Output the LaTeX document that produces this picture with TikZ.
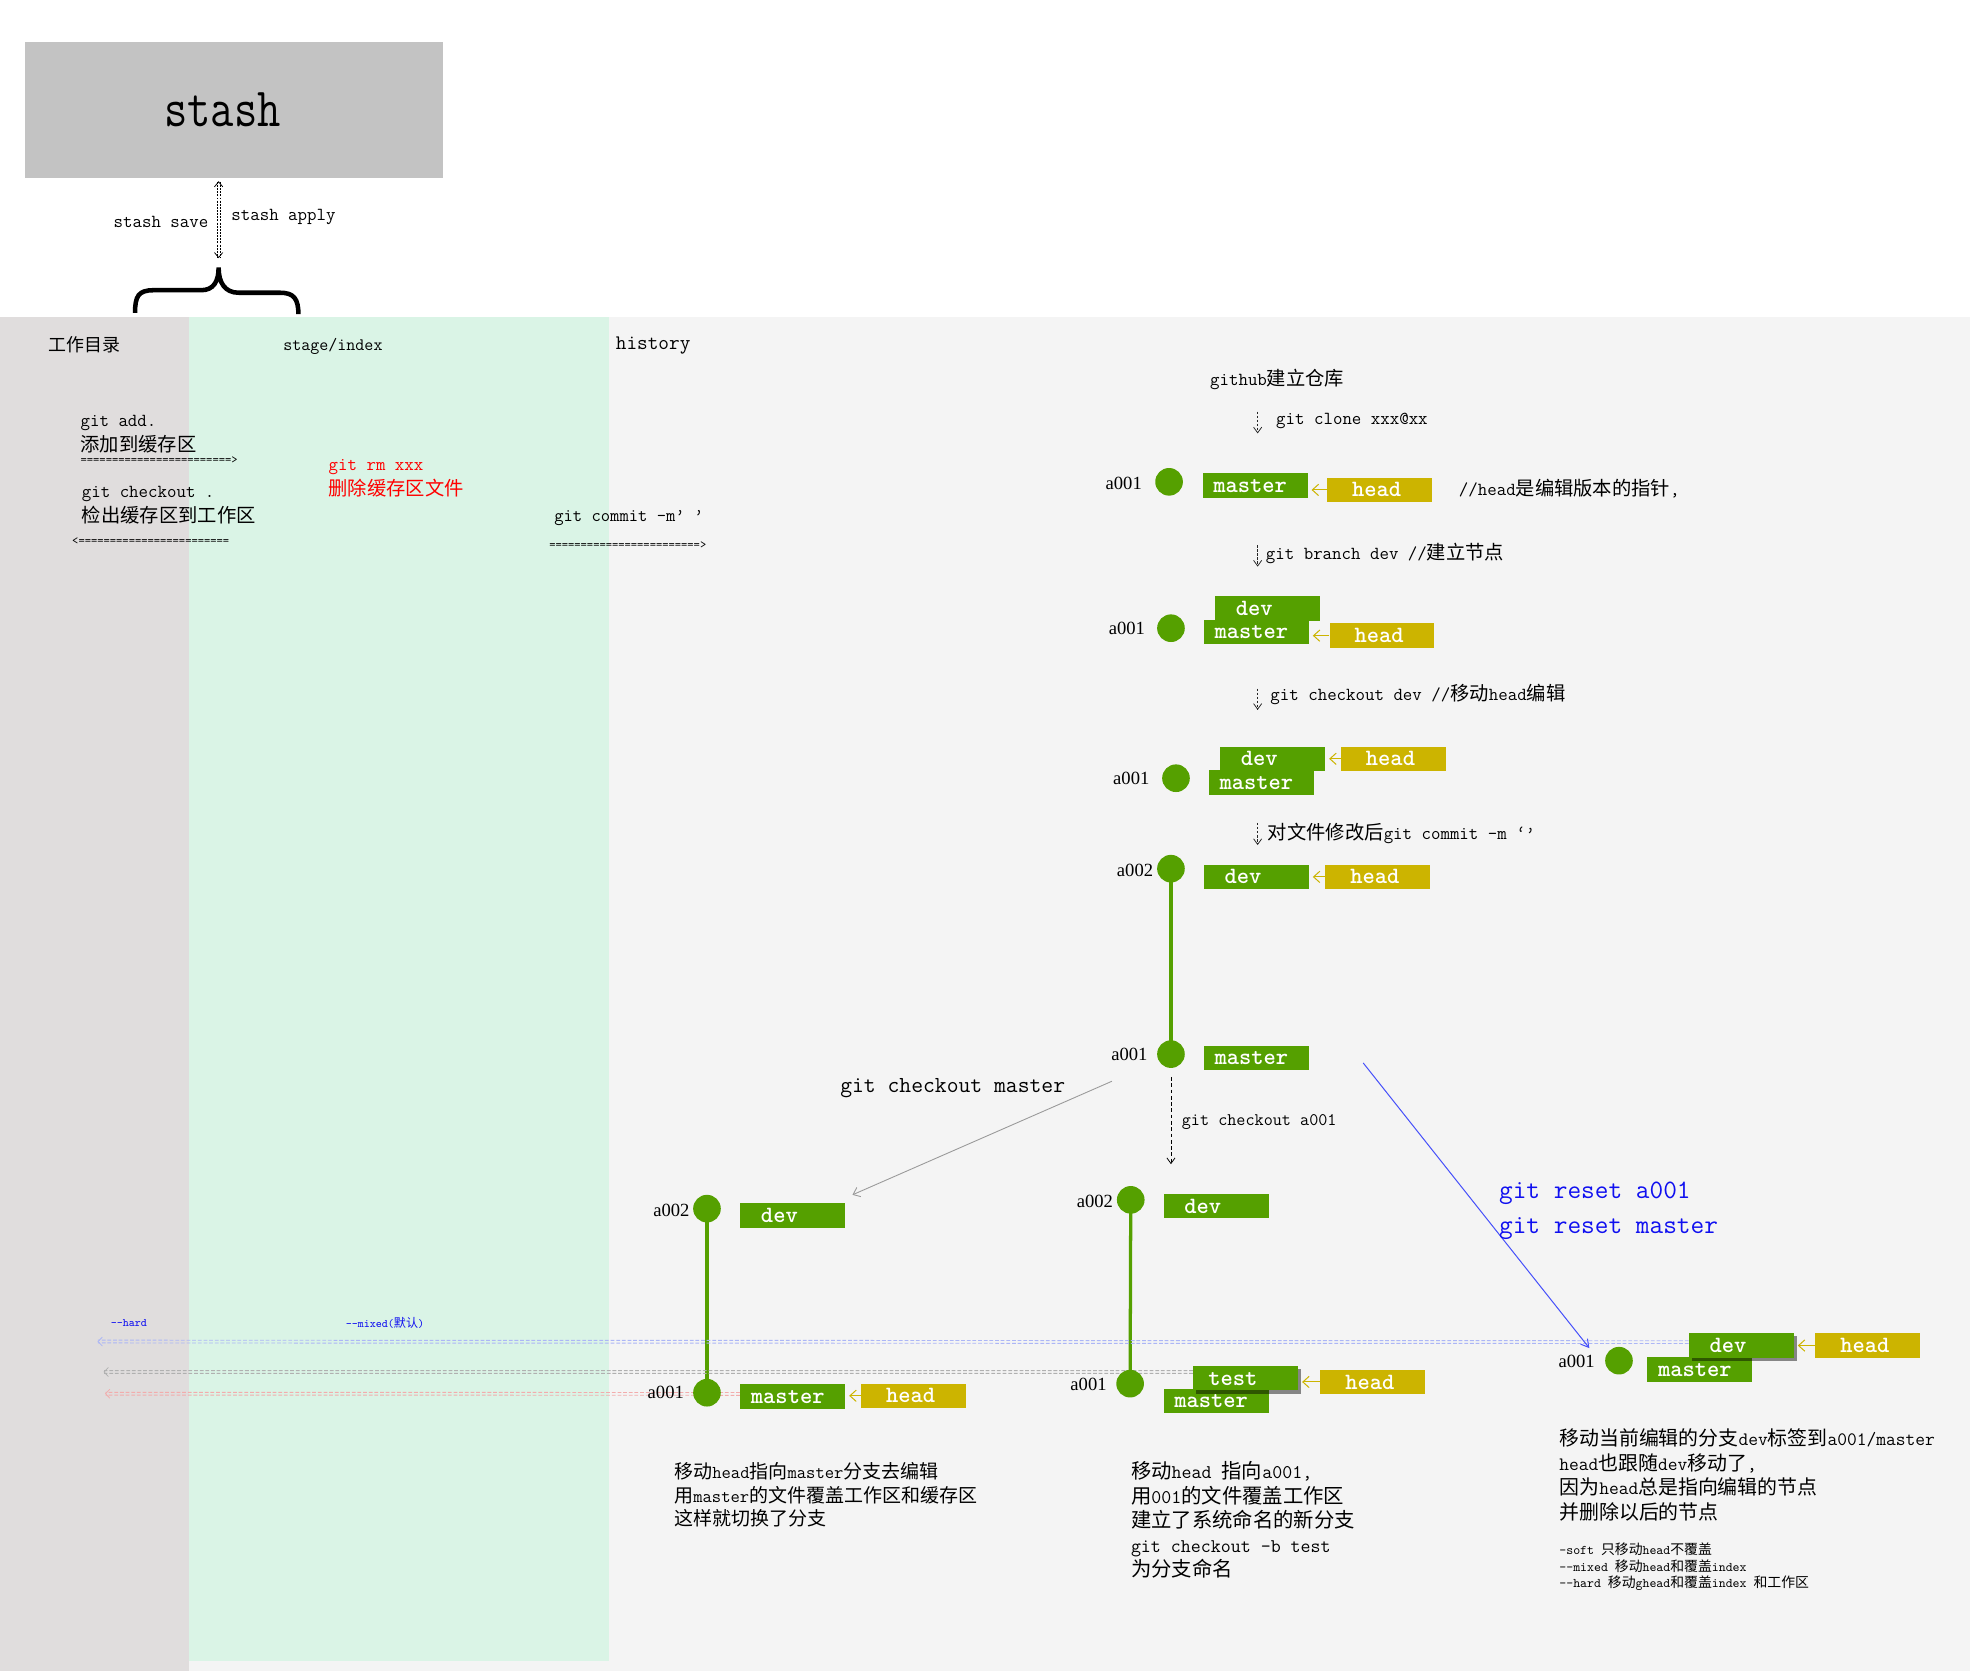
\documentclass[tikz,border=0pt]{standalone}
\usepackage{fontspec}
\usepackage{graphicx}
\usetikzlibrary{arrows.meta,calc,shadows}

% Latin text in the serif typewriter face, Chinese in Noto Sans CJK at full-width size
\newcommand\monof{\ttfamily}
\newfontfamily\cjkf[Scale=1.05]{Noto Sans CJK SC}
\newfontfamily\idfont{Liberation Serif}
\newcommand\zh[1]{{\cjkf #1}}
\newcommand\fs[2]{\fontsize{#1}{#2}\selectfont}

\definecolor{gitgreen}{RGB}{85,160,0}
\definecolor{headyellow}{RGB}{204,180,0}
\definecolor{stashgray}{RGB}{195,195,195}
\definecolor{workbg}{RGB}{224,221,221}
\definecolor{stagebg}{RGB}{218,244,230}
\definecolor{histbg}{RGB}{244,244,244}
\definecolor{hardline}{RGB}{172,182,246}
\definecolor{mixedline}{RGB}{176,176,176}
\definecolor{softline}{RGB}{242,172,172}
\definecolor{resetblue}{RGB}{15,15,240}
\definecolor{arrowblue}{RGB}{70,80,250}

\pgfdeclarelayer{backdrop}
\pgfdeclarelayer{lines}
\pgfsetlayers{backdrop,lines,main}

% two parallel dashed lines ending in an open tip (reset ranges)
\newcommand\twin[3]{%
  \draw[#1, line width=0.75pt, dash pattern=on 3pt off 1.5pt] ([yshift=1.1pt]#2) -- ([yshift=1.1pt]#3);
  \draw[#1, line width=0.75pt, dash pattern=on 3pt off 1.5pt] ([yshift=-1.1pt]#2) -- ([yshift=-1.1pt]#3);
  \draw[#1, line width=0.6pt] ([shift={(3.5pt,3.6pt)}]#3) -- (#3) -- ([shift={(3.5pt,-3.6pt)}]#3);
}

\begin{document}
\begin{tikzpicture}[x=1pt,y=-1pt,
  txt/.style={inner sep=0pt, anchor=west, align=left, font=\monof\fs{14.63}{19.8}},
  tiny/.style={txt, font=\monof\fs{9.52}{10}},
  commit/.style={circle, fill=gitgreen, minimum size=22pt, inner sep=0pt},
  cid/.style={inner sep=0pt, anchor=east, font=\idfont\fs{14.8}{15}},
  tag/.style={anchor=north west, fill=gitgreen, text=white, font=\monof\bfseries\fs{18.6}{18.6},
    minimum height=19.5pt, inner ysep=0pt, text height=11.2pt, text depth=0pt, align=left},
  mtag/.style={tag, inner xsep=8.5pt, text width=66.5pt},
  dtag/.style={tag, inner xsep=16.5pt, text width=50.5pt},
  ttag/.style={tag, inner xsep=12pt, text width=59.5pt},
  htag/.style={tag, fill=headyellow, inner xsep=20pt, text width=43.5pt},
  shadowed/.style={drop shadow={shadow xshift=2.5pt, shadow yshift=-2.5pt, opacity=0.45, fill=black}},
  headptr/.style={draw=headyellow, line width=0.8pt, -{Straight Barb[length=5pt, width=9pt]}},
  stepdown/.style={draw=black!85, line width=0.6pt, dash pattern=on 2pt off 1.2pt,
    -{Straight Barb[length=4.5pt, width=6.5pt]}},
  branchline/.style={draw=gitgreen, line width=2.6pt},
  stashbox/.style={anchor=north west, fill=stashgray, minimum height=107.8pt, inner ysep=0pt,
    inner xsep=110.5pt, text width=111.5pt, align=left, font=\monof\fs{44}{44},
    text height=26.5pt, text depth=0pt}
]
\useasboundingbox (0,0) rectangle (1568,1330);

% areas: working directory, stage/index, history
\begin{pgfonlayer}{backdrop}
  \fill[white] (0,0) rectangle (1568,1330);
  \fill[workbg] (0,252) rectangle (150.4,1330);
  \fill[histbg] (150.4,252) rectangle (1568,1330);
  \fill[stagebg] (150.4,252.5) rectangle (484.8,1322);
\end{pgfonlayer}

% stash and its link to the working areas
\node[stashbox] (stash) at (20,33.5) {\scalebox{0.82}[1]{stash}};
\coordinate (braceTip) at (174,213);
\coordinate (stashTop) at ($(stash.south -| braceTip)+(0,3)$);
\coordinate (stashBot) at ($(braceTip)+(0,-8)$);
\draw[line width=0.6pt, dash pattern=on 1.5pt off 1pt] ([xshift=-1.1pt]stashTop) -- ([xshift=-1.1pt]stashBot);
\draw[line width=0.6pt, dash pattern=on 1.5pt off 1pt] ([xshift=1.1pt]stashTop) -- ([xshift=1.1pt]stashBot);
\draw[line width=0.6pt] ([shift={(-3.3pt,-4pt)}]stashTop) -- (stashTop) -- ([shift={(3.3pt,-4pt)}]stashTop);
\draw[line width=0.6pt] ([shift={(-3.3pt,4pt)}]stashBot) -- (stashBot) -- ([shift={(3.3pt,4pt)}]stashBot);
\node[txt, anchor=east] (stashsave) at (166,176.8) {stash save};
\node[txt] (stashapply) at (184,172.8) {stash apply};
\draw[line width=3.6pt] (107.5,249) .. controls (107.5,236) and (110,231) .. (122,231)
  -- (160,231) .. controls (170,231) and (174,224) .. (braceTip)
  .. controls (174,225) and (179,233) .. (190,233) -- (223,233)
  .. controls (234,233) and (237.5,238) .. (237.5,250);

% area headings
\node[txt, font=\monof\fs{13.6}{14}] (wdir) at (38.3,274) {\zh{工作目录}};
\node[txt, font=\monof\fs{13.94}{14}] (stagehdr) at (225.3,276) {stage/index};
\node[txt, font=\monof\fs{16.46}{16}] (histhdr) at (490,275) {history};

% commands between the areas
\node[txt] (addtxt) at (64,345.8) {git add.\\\zh{添加到缓存区}};
\node[tiny] (addarr) at (64,366) {========================>};
\node[txt] (cotxt) at (65,402.3) {git checkout .\\\zh{检出缓存区到工作区}};
\node[tiny] (coarr) at (57.3,431) {<========================};
\node[txt, text=red] (rmtxt) at (261.4,381) {git rm xxx\\\zh{删除缓存区文件}};
\node[txt, font=\monof\fs{14.4}{14}] (cmtxt) at (441,412.5) {git commit -m’ ’};
\node[tiny] (cmarr) at (437,434.3) {========================>};

% history: clone, branch, checkout, commit
\node[txt] (repo) at (963,302) {github\zh{建立仓库}};
\coordinate (ar1s) at (1001,327.6); \coordinate (ar1e) at (1001,345);
\draw[stepdown] (ar1s) -- (ar1e);
\node[txt] (clonetxt) at (1015.6,335) {git clone xxx@xx};

\node[commit] (c1) at (930.5,383.5) {};
\node[cid] (id1) at (909,384.6) {a001};
\node[mtag] (m1) at (957,376.5) {master};
\node[htag] (h1) at (1056,380) {head};
\draw[headptr] (h1.west) -- ($(m1.east |- h1.west)+(3,0)$);
\node[txt] (headnote) at (1161,388.6) {//head\zh{是编辑版本的指针},};

\coordinate (ar2s) at (1001,433.8); \coordinate (ar2e) at (1001,451);
\draw[stepdown] (ar2s) -- (ar2e);
\node[txt] (branchtxt) at (1007.4,440.3) {git branch dev //\zh{建立节点}};

\node[commit] (c2) at (932,500) {};
\node[cid] (id2) at (911.5,500) {a001};
\node[dtag] (d2) at (967,474.5) {dev};
\node[mtag] (m2) at (958,493) {master};
\node[htag] (h2) at (1058,496) {head};
\draw[headptr] (h2.west) -- ($(m2.east |- h2.west)+(3,0)$);

\coordinate (ar3s) at (1001,548); \coordinate (ar3e) at (1001,565);
\draw[stepdown] (ar3s) -- (ar3e);
\node[txt] (codevtxt) at (1011,553) {git checkout dev //\zh{移动}head\zh{编辑}};

\node[commit] (c3) at (936,619.4) {};
\node[cid] (id3) at (915,619.5) {a001};
\node[mtag] (m3) at (962,613) {master};
\node[dtag] (d3) at (971,594) {dev};
\node[htag] (h3) at (1067,594) {head};
\draw[headptr] (h3.west) -- ($(d3.east |- h3.west)+(3,0)$);

\coordinate (ar4s) at (1001,655); \coordinate (ar4e) at (1001,672.6);
\draw[stepdown] (ar4s) -- (ar4e);
\node[txt] (committxt) at (1009,663) {\zh{对文件修改后}git commit -m  ‘’};

\node[commit] (c4) at (932,691.4) {};
\node[cid] (id4) at (918,693) {a002};
\node[dtag] (d4) at (958,688) {dev};
\node[htag] (h4) at (1054.6,688) {head};
\draw[headptr] (h4.west) -- ($(d4.east |- h4.west)+(3,0)$);

\node[commit] (c5) at (932,839) {};
\node[cid] (id5) at (913.5,839) {a001};
\node[mtag] (m5) at (958,832) {master};

% result of git checkout master
\node[commit] (la2) at (562.7,962) {};
\node[cid] (lid2) at (549,963) {a002};
\node[dtag] (ld) at (589,957.5) {dev};
\node[commit] (la1) at (562.7,1108.5) {};
\node[cid] (lid1) at (544.5,1108.5) {a001};
\node[mtag] (lm) at (589,1101.5) {master};
\node[htag] (lh) at (685,1101) {head};
\draw[headptr] (lh.west) -- ($(lm.east |- lh.west)+(3,0)$);
\node[txt, font=\monof\fs{14.4}{18.6}] (ldesc) at (536.5,1189.9)
  {\zh{移动}head\zh{指向}master\zh{分支去编辑}\\\zh{用}master\zh{的文件覆盖工作区和缓存区}\\\zh{这样就切换了分支}};

% result of git checkout a001
\node[commit] (ma2) at (900,955) {};
\node[cid] (mid2) at (886,956) {a002};
\node[dtag] (md) at (926,950) {dev};
\node[commit] (ma1) at (899.5,1101.3) {};
\node[cid] (mid1) at (881,1102) {a001};
\node[mtag] (mm) at (926,1105) {master};
\node[ttag, shadowed] (mt) at (949.5,1087) {test};
\node[htag] (mh) at (1050.6,1090) {head};
\draw[headptr] (mh.west) -- ($(mt.east |- mh.west)+(3,0)$);
\node[txt, font=\monof\fs{15.43}{19.5}] (mdesc) at (900,1210)
  {\zh{移动}head \zh{指向}a001,\\\zh{用}001\zh{的文件覆盖工作区}\\\zh{建立了系统命名的新分支}\\git checkout -b test\\\zh{为分支命名}};

% result of git reset
\node[commit] (ra1) at (1288.6,1083) {};
\node[cid] (rid1) at (1269.5,1083.8) {a001};
\node[mtag] (rm) at (1311,1080) {master};
\node[dtag, shadowed] (rd) at (1344,1061) {dev};
\node[htag] (rh) at (1444.6,1061) {head};
\draw[headptr] (rh.west) -- ($(rd.east |- rh.west)+(3,0)$);
\node[txt, font=\monof\fs{15.09}{19.5}] (rdesc) at (1241,1174)
  {\zh{移动当前编辑的分支}dev\zh{标签到}a001/master\\head\zh{也跟随}dev\zh{移动了},\\\zh{因为}head\zh{总是指向编辑的节点}\\\zh{并删除以后的节点}};
\node[txt, font=\monof\fs{10.51}{13.2}] (modes) at (1241,1247)
  {-soft \zh{只移动}head\zh{不覆盖}\\--mixed \zh{移动}head\zh{和覆盖}index\\--hard  \zh{移动}ghead\zh{和覆盖}index \zh{和工作区}};

% branch lines
\begin{pgfonlayer}{lines}
  \draw[branchline] (c4.center) -- (c5.center);
  \draw[branchline] (la2.center) -- (la1.center);
  \draw[branchline] (ma2.center) -- (ma1.center);
  % reset ranges back into the areas
  \coordinate (hardR) at ($(rd.west)+(0,-2.7)$);
  \coordinate (hardL) at (78,1067.8);
  \coordinate (mixedR) at ($(mt.west)+(0,-5)$);
  \coordinate (mixedL) at (82.8,1092);
  \coordinate (softR) at ($(lm.west)+(0,-2)$);
  \coordinate (softL) at (84,1109.3);
  \twin{hardline}{hardR}{hardL}
  \twin{mixedline}{mixedR}{mixedL}
  \twin{softline}{softR}{softL}
\end{pgfonlayer}
\node[txt, font=\monof\fs{9.14}{10}, text=resetblue] (hardlbl) at (88,1053) {--hard};
\node[txt, font=\monof\fs{9.14}{10}, text=resetblue] (mixedlbl) at (275,1053) {--mixed(\zh{默认})};

% operations leading to the three results
\coordinate (gcmS) at (885,860.6);
\coordinate (gcmE) at (678.5,951);
\draw[draw=black!40, line width=0.7pt, -{Straight Barb[length=5pt, width=8pt]}] (gcmS) -- (gcmE);
\node[txt, font=\monof\fs{18.29}{18}] (cmaster) at (668.6,866) {git checkout master};

\coordinate (coE) at (932,926.6);
\draw[line width=0.6pt, dash pattern=on 3pt off 2pt, -{Straight Barb[length=4.5pt, width=6.5pt]}]
  ($(c5.south)+(0,7)$) -- (coE);
\node[txt, font=\monof\fs{14.06}{14}] (ca001) at (940.5,892.8) {git checkout a001};

\coordinate (rsS) at (1085,846);
\coordinate (rsE) at (1265,1073);
\draw[draw=arrowblue, line width=0.8pt, -{Straight Barb[length=6pt, width=7pt]}] (rsS) -- (rsE);
\node[txt, font=\monof\fs{21.14}{28}, text=resetblue] (resettxt) at (1193,963.7) {git reset a001\\git reset master};
\end{tikzpicture}
\end{document}
